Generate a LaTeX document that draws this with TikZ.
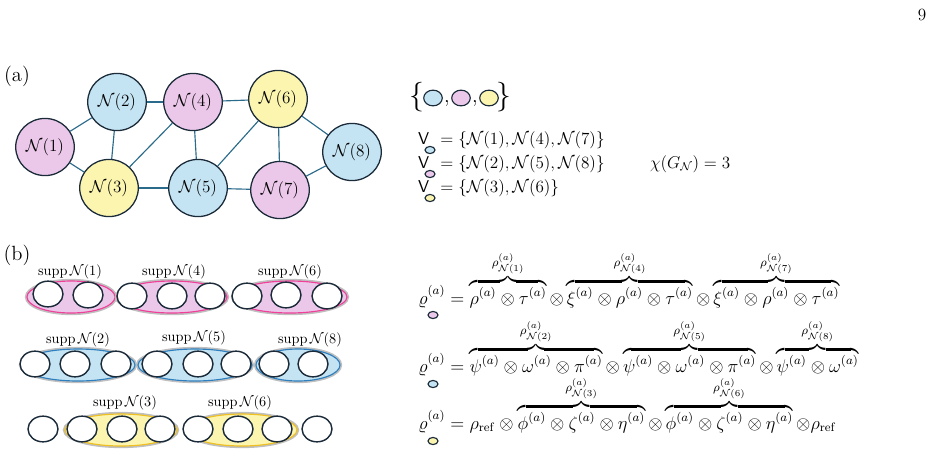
\documentclass[tikz,border=0pt]{standalone}
\usepackage{amsmath}
\usepackage{amssymb}
\usepackage{tikz}
\usetikzlibrary{shapes.geometric}
\usetikzlibrary{positioning}

\definecolor{cblue}{HTML}{C5E4F3}
\definecolor{cpink}{HTML}{EBC8EA}
\definecolor{cyellow}{HTML}{FBF5B0}
\definecolor{cline}{HTML}{1B2B3A}
\definecolor{cedge}{HTML}{2A6A8A}
\definecolor{rpink}{HTML}{F0409A}
\definecolor{rblue}{HTML}{2E7FBF}
\definecolor{ryellow}{HTML}{F0C020}

\begin{document}
\begin{tikzpicture}[x=0.7pt,y=-0.7pt,font=\large,
	main node/.style={ellipse,draw=cline,line width=0.9pt,minimum width=41pt,minimum height=40pt,inner sep=0pt},
	site/.style={ellipse,draw=cline,fill=white,line width=1pt,minimum width=21pt,minimum height=18pt,inner sep=0pt},
	tiny/.style={ellipse,draw=cline,line width=0.8pt,minimum width=7pt,minimum height=5pt,inner sep=0pt},
	swatch/.style={tiny,minimum width=13pt,minimum height=11pt},
	halo/.style={line width=3pt,draw=black!25},
	link/.style={draw=cedge,line width=0.8pt},
	supp/.style={font=\normalsize},
	state/.style={anchor=base west,inner sep=0pt,scale=1.07,transform shape}]
	\useasboundingbox (0,0) rectangle (938,455);
	
	\node (page) at (922,15) {9};
	\node[font=\Large] (lbla) at (17,76) {(a)};
	\node[font=\Large] (lblb) at (17,255) {(b)};
	
	% graph
	\node[main node,fill=cpink] (n1) at (45,147) {$\mathcal{N}(1)$};
	\node[main node,fill=cblue] (n2) at (117,102) {$\mathcal{N}(2)$};
	\node[main node,fill=cyellow] (n3) at (109,188) {$\mathcal{N}(3)$};
	\node[main node,fill=cpink] (n4) at (193,102) {$\mathcal{N}(4)$};
	\node[main node,fill=cblue] (n5) at (198,188) {$\mathcal{N}(5)$};
	\node[main node,fill=cyellow] (n6) at (278,99) {$\mathcal{N}(6)$};
	\node[main node,fill=cpink] (n7) at (280,190) {$\mathcal{N}(7)$};
	\node[main node,fill=cblue] (n8) at (352,152) {$\mathcal{N}(8)$};
	
	\path[link]
	(n1) edge (n2) (n1) edge (n3) (n2) edge (n3) (n2) edge (n4)
	(n3) edge (n4) (n3) edge (n5) (n4) edge (n5) (n4) edge (n6)
	(n5) edge (n6) (n5) edge (n7) (n6) edge (n7) (n6) edge (n8)
	(n7) edge (n8);
	
	% colour legend
	\node[font=\huge] (bl) at (417,97) {$\{$};
	\node[swatch,fill=cblue] (s1) at (433,98) {};
	\node[font=\Large] (k1) at (447,103) {,};
	\node[swatch,fill=cpink] (s2) at (461,98) {};
	\node[font=\Large] (k2) at (475,103) {,};
	\node[swatch,fill=cyellow] (s3) at (489,98) {};
	\node[font=\huge] (br) at (504,97) {$\}$};
	
	\node[anchor=west] (v1) at (413,140) {$\mathsf{V}_{\phantom{o}} = \{\mathcal{N}(1),\mathcal{N}(4),\mathcal{N}(7)\}$};
	\node[anchor=west] (v2) at (413,164) {$\mathsf{V}_{\phantom{o}} = \{\mathcal{N}(2),\mathcal{N}(5),\mathcal{N}(8)\}$};
	\node[anchor=west] (v3) at (413,188) {$\mathsf{V}_{\phantom{o}} = \{\mathcal{N}(3),\mathcal{N}(6)\}$};
	\node[tiny,fill=cblue] (t1) at (430,150) {};
	\node[tiny,fill=cpink] (t2) at (430,174) {};
	\node[tiny,fill=cyellow] (t3) at (430,198) {};
	\node[anchor=west] (chi) at (645,164) {$\chi(G_{\mathcal{N}}) = 3$};
	
	% supports
	\foreach \cx/\cy/\w/\col/\rim in {71/297/44/cpink/rpink, 172/297/55/cpink/rpink, 290/297/57/cpink/rpink,
		78/365/57/cblue/rblue, 195/365/57/cblue/rblue, 298/365/42/cblue/rblue,
		121/430/56/cyellow/ryellow, 242/430/55/cyellow/ryellow}
	{
		\draw[halo] (\cx,\cy) ellipse [x radius=\w, y radius=16];
		\draw[fill=\col,draw=\rim,line width=0.8pt] (\cx,\cy) ellipse [x radius=\w, y radius=16];
	}
	\foreach \i/\x/\y in {a/48/294, b/88/295, c/132/296, d/172/296, e/210/296, f/247/296, g/286/295, h/327/296,
		i/35/364, j/75/364, k/116/364, l/157/364, m/198/364, n/236/364, o/274/364, p/313/364,
		q/43/429, r/82/429, s/122/429, t/160/429, u/198/429, v/238/429, w/277/429, x/317/429}
		\node[site] (c\i) at (\x,\y) {};
	
	\node[supp] (sp1) at (70,272) {$\operatorname{supp}\mathcal{N}(1)$};
	\node[supp] (sp4) at (174,272) {$\operatorname{supp}\mathcal{N}(4)$};
	\node[supp] (sp6) at (290,272) {$\operatorname{supp}\mathcal{N}(6)$};
	\node[supp] (sp2) at (78,340) {$\operatorname{supp}\mathcal{N}(2)$};
	\node[supp] (sp5) at (194,338) {$\operatorname{supp}\mathcal{N}(5)$};
	\node[supp] (sp8) at (310,340) {$\operatorname{supp}\mathcal{N}(8)$};
	\node[supp] (sp3) at (125,403) {$\operatorname{supp}\mathcal{N}(3)$};
	\node[supp] (sp6b) at (240,403) {$\operatorname{supp}\mathcal{N}(6)$};
	
	% states
	\node[state] (eq1) at (418,304) {$\varrho^{(a)}_{\phantom{o}} = \overbrace{\rho^{(a)}\otimes\tau^{(a)}}^{\rho^{(a)}_{\mathcal{N}(1)}} \otimes \overbrace{\xi^{(a)}\otimes\rho^{(a)}\otimes\tau^{(a)}}^{\rho^{(a)}_{\mathcal{N}(4)}} \otimes \overbrace{\xi^{(a)}\otimes\rho^{(a)}\otimes\tau^{(a)}}^{\rho^{(a)}_{\mathcal{N}(7)}}$};
	\node[state] (eq2) at (418,372) {$\varrho^{(a)}_{\phantom{o}} = \overbrace{\psi^{(a)}\otimes\omega^{(a)}\otimes\pi^{(a)}}^{\rho^{(a)}_{\mathcal{N}(2)}} \otimes \overbrace{\psi^{(a)}\otimes\omega^{(a)}\otimes\pi^{(a)}}^{\rho^{(a)}_{\mathcal{N}(5)}} \otimes \overbrace{\psi^{(a)}\otimes\omega^{(a)}}^{\rho^{(a)}_{\mathcal{N}(8)}}$};
	\node[state] (eq3) at (418,429) {$\varrho^{(a)}_{\phantom{o}} = \rho_{\mathrm{ref}}\otimes\overbrace{\phi^{(a)}\otimes\zeta^{(a)}\otimes\eta^{(a)}}^{\rho^{(a)}_{\mathcal{N}(3)}} \otimes \overbrace{\phi^{(a)}\otimes\zeta^{(a)}\otimes\eta^{(a)}}^{\rho^{(a)}_{\mathcal{N}(6)}} \otimes\rho_{\mathrm{ref}}$};
	\node[tiny,fill=cpink] (e1) at (433,315) {};
	\node[tiny,fill=cblue] (e2) at (433,384) {};
	\node[tiny,fill=cyellow] (e3) at (433,441) {};
\end{tikzpicture}
\end{document}
